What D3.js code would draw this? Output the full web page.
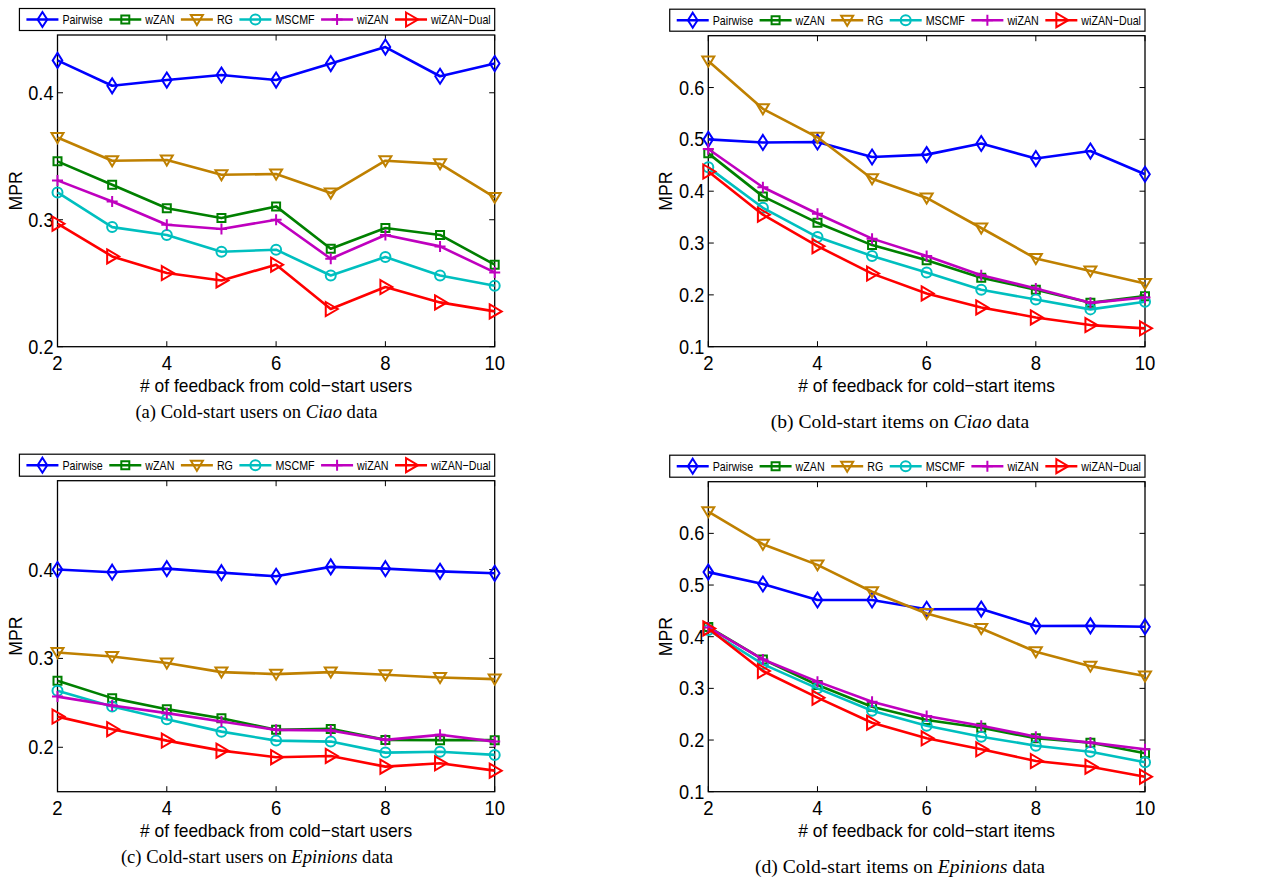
<!DOCTYPE html>
<html>
<head>
<meta charset="utf-8">
<script src="https://cdn.jsdelivr.net/npm/d3@7"></script>
<style>
  body { margin: 0; background: #fff; }
</style>
</head>
<body>
<div id="chart"></div>
<script>
const feedback = [2, 3, 4, 5, 6, 7, 8, 9, 10];
const methods = ["Pairwise", "wZAN", "RG", "MSCMF", "wiZAN", "wiZAN\u2212Dual"];
const colors = ["#0000ff", "#008000", "#bf8000", "#00bfbf", "#bf00bf", "#ff0000"];
const markers = ["diamond", "square", "triDown", "circle", "plus", "triRight"];

// MPR values, one row per method (same order as `methods`)
const ciaoUsersMPR = [
  [0.4255, 0.4055, 0.410, 0.414, 0.410, 0.423, 0.436, 0.413, 0.423],
  [0.346, 0.3276, 0.309, 0.3013, 0.3105, 0.2772, 0.2935, 0.288, 0.2646],
  [0.3648, 0.3465, 0.347, 0.3354, 0.336, 0.321, 0.3465, 0.344, 0.3176],
  [0.3215, 0.2942, 0.288, 0.2748, 0.2764, 0.2561, 0.2706, 0.2561, 0.248],
  [0.331, 0.3144, 0.296, 0.2927, 0.300, 0.2693, 0.288, 0.279, 0.2585],
  [0.2969, 0.2711, 0.258, 0.2522, 0.2646, 0.2297, 0.247, 0.2349, 0.2278]
];
const ciaoItemsMPR = [
  [0.500, 0.494, 0.495, 0.466, 0.4706, 0.492, 0.463, 0.4775, 0.4327],
  [0.473, 0.390, 0.339, 0.296, 0.267, 0.233, 0.210, 0.1846, 0.1975],
  [0.651, 0.559, 0.504, 0.424, 0.387, 0.329, 0.270, 0.246, 0.222],
  [0.446, 0.368, 0.3115, 0.275, 0.243, 0.210, 0.191, 0.172, 0.1866],
  [0.4815, 0.4077, 0.3565, 0.3085, 0.275, 0.238, 0.2123, 0.1846, 0.195],
  [0.438, 0.3546, 0.294, 0.241, 0.2027, 0.1758, 0.1565, 0.1417, 0.1354]
];
const epinionsUsersMPR = [
  [0.400, 0.397, 0.401, 0.3965, 0.3924, 0.403, 0.401, 0.398, 0.3958],
  [0.2748, 0.2553, 0.2429, 0.2327, 0.2196, 0.2207, 0.2083, 0.208, 0.208],
  [0.3067, 0.3022, 0.2948, 0.2846, 0.2823, 0.2846, 0.2816, 0.2785, 0.2767],
  [0.2635, 0.2458, 0.2316, 0.2176, 0.2075, 0.2064, 0.194, 0.195, 0.1914],
  [0.257, 0.247, 0.2384, 0.229, 0.2196, 0.2188, 0.2083, 0.214, 0.2064],
  [0.2345, 0.2203, 0.2075, 0.1962, 0.1888, 0.1902, 0.1782, 0.182, 0.1737]
];
const epinionsItemsMPR = [
  [0.525, 0.502, 0.471, 0.471, 0.453, 0.4535, 0.4207, 0.421, 0.4193],
  [0.419, 0.356, 0.3065, 0.2645, 0.2388, 0.2239, 0.2033, 0.1948, 0.1743],
  [0.642, 0.579, 0.539, 0.487, 0.445, 0.416, 0.371, 0.343, 0.324],
  [0.413, 0.347, 0.300, 0.2568, 0.2277, 0.2065, 0.189, 0.1774, 0.157],
  [0.418, 0.356, 0.313, 0.2742, 0.2465, 0.2277, 0.2065, 0.195, 0.182],
  [0.416, 0.3336, 0.282, 0.2335, 0.2033, 0.182, 0.1594, 0.1484, 0.129]
];

const xTicks = [2, 4, 6, 8, 10];
const usersLabel = "# of feedback from cold\u2212start users";
const itemsLabel = "# of feedback for cold\u2212start items";

const panels = [
  { data: ciaoUsersMPR, box: [57.5, 494.7, 35, 346.7], yDomain: [0.2, 0.4455], yTicks: [0.2, 0.3, 0.4],
    xlabel: usersLabel, cap: ["(a) Cold-start users on ", "Ciao", " data"], capX: 256.5, capDy: 71.5, capSize: 18.6 },
  { data: ciaoItemsMPR, box: [708.3, 1145, 35.7, 346.7], yDomain: [0.1, 0.7], yTicks: [0.1, 0.2, 0.3, 0.4, 0.5, 0.6],
    xlabel: itemsLabel, cap: ["(b) Cold-start items on ", "Ciao", " data"], capX: 900, capDy: 81.5, capSize: 19.6 },
  { data: epinionsUsersMPR, box: [57.5, 494.7, 480.7, 791.7], yDomain: [0.15, 0.5], yTicks: [0.2, 0.3, 0.4],
    xlabel: usersLabel, cap: ["(c) Cold-start users on ", "Epinions", " data"], capX: 257, capDy: 71.5, capSize: 18.6 },
  { data: epinionsItemsMPR, box: [708.3, 1145, 481.7, 791.7], yDomain: [0.1, 0.7], yTicks: [0.1, 0.2, 0.3, 0.4, 0.5, 0.6],
    xlabel: itemsLabel, cap: ["(d) Cold-start items on ", "Epinions", " data"], capX: 900, capDy: 81.5, capSize: 19.6 }
];

const markerPath = {
  diamond: "M0,-7.5L4.8,0L0,7.5L-4.8,0Z",
  square: "M-4,-4H4V4H-4Z",
  triDown: "M-6,-4.5L6,-4.5L0,5.5Z",
  circle: "M5,0A5,5 0 1,1 -5,0A5,5 0 1,1 5,0Z",
  plus: "M-5.5,0H5.5M0,-5.5V5.5",
  triRight: "M-5,-7L7,0L-5,7Z"
};

const width = 1278, height = 882;
const svg = d3.select("#chart").append("svg")
  .attr("width", width)
  .attr("height", height);

const SANS = "'Liberation Sans', Arial, Helvetica, sans-serif";
const SERIF = "'Liberation Serif', 'Times New Roman', serif";

// squeeze sans text a bit, the source font is narrower than Arial
function narrow(sel, k) {
  sel.each(function () {
    const w = this.getComputedTextLength();
    d3.select(this).attr("textLength", w * k).attr("lengthAdjust", "spacingAndGlyphs");
  });
}

panels.forEach(p => {
  const [x0, x1, y0, y1] = p.box;
  const x = d3.scaleLinear().domain([2, 10]).range([x0, x1]);
  const y = d3.scaleLinear().domain(p.yDomain).range([y1, y0]);
  const g = svg.append("g");

  // box and inward ticks on every side
  g.append("rect")
    .attr("x", x0).attr("y", y0)
    .attr("width", x1 - x0).attr("height", y1 - y0)
    .attr("fill", "none").attr("stroke", "#000").attr("stroke-width", 1.3);

  const tk = 5.5;
  xTicks.forEach(t => {
    g.append("line").attr("x1", x(t)).attr("x2", x(t)).attr("y1", y1).attr("y2", y1 - tk)
      .attr("stroke", "#000").attr("stroke-width", 1);
    g.append("line").attr("x1", x(t)).attr("x2", x(t)).attr("y1", y0).attr("y2", y0 + tk)
      .attr("stroke", "#000").attr("stroke-width", 1);
  });
  p.yTicks.forEach(t => {
    g.append("line").attr("x1", x0).attr("x2", x0 + tk).attr("y1", y(t)).attr("y2", y(t))
      .attr("stroke", "#000").attr("stroke-width", 1);
    g.append("line").attr("x1", x1).attr("x2", x1 - tk).attr("y1", y(t)).attr("y2", y(t))
      .attr("stroke", "#000").attr("stroke-width", 1);
  });

  g.selectAll(".xt").data(xTicks).enter().append("text")
    .attr("x", d => x(d)).attr("y", y1 + 23.5)
    .attr("text-anchor", "middle")
    .attr("font-family", SANS).attr("font-size", 19.5)
    .text(d => d)
    .call(narrow, 0.95);

  g.selectAll(".yt").data(p.yTicks).enter().append("text")
    .attr("x", x0 - 4).attr("y", d => y(d) + 7)
    .attr("text-anchor", "end")
    .attr("font-family", SANS).attr("font-size", 19.5)
    .text(d => d3.format(".1f")(d))
    .call(narrow, 0.93);

  g.append("text")
    .attr("transform", `translate(${x0 - 36},${(y0 + y1) / 2}) rotate(-90)`)
    .attr("text-anchor", "middle")
    .attr("font-family", SANS).attr("font-size", 19)
    .text("MPR")
    .call(narrow, 0.93);

  g.append("text")
    .attr("x", (x0 + x1) / 2).attr("y", y1 + 45)
    .attr("text-anchor", "middle")
    .attr("font-family", SANS).attr("font-size", 19)
    .text(p.xlabel)
    .call(narrow, 0.915);

  const cap = g.append("text")
    .attr("x", p.capX).attr("y", y1 + p.capDy)
    .attr("text-anchor", "middle")
    .attr("font-family", SERIF).attr("font-size", p.capSize);
  cap.append("tspan").text(p.cap[0]);
  cap.append("tspan").attr("font-style", "italic").text(p.cap[1]);
  cap.append("tspan").text(p.cap[2]);

  // series
  const line = d3.line().x((d, i) => x(feedback[i])).y(d => y(d));
  p.data.forEach((vals, si) => {
    g.append("path")
      .attr("d", line(vals))
      .attr("fill", "none")
      .attr("stroke", colors[si])
      .attr("stroke-width", 2.6)
      .attr("stroke-linejoin", "round");
    g.selectAll(null).data(vals).enter().append("path")
      .attr("transform", (d, i) => `translate(${x(feedback[i])},${y(d)})`)
      .attr("d", markerPath[markers[si]])
      .attr("fill", "none")
      .attr("stroke", colors[si])
      .attr("stroke-width", 2);
  });

  // legend, right aligned to the plot box
  const lg = g.append("g");
  const lTop = y0 - 26.5, lH = 22;
  const items = lg.selectAll(".li").data(methods).enter().append("g");
  const texts = items.append("text")
    .attr("y", lTop + lH / 2 + 4.6)
    .attr("font-family", SANS).attr("font-size", 13.2)
    .text(d => d)
    .call(narrow, 0.81);
  const widths = [];
  texts.each(function () { widths.push(+this.getAttribute("textLength")); });
  const total = 7 + d3.sum(widths) + methods.length * 36 + (methods.length - 1) * 6.5 + 4;
  const lx0 = x1 - total;
  lg.insert("rect", ":first-child")
    .attr("x", lx0).attr("y", lTop)
    .attr("width", total).attr("height", lH)
    .attr("fill", "#fff").attr("stroke", "#000").attr("stroke-width", 1.2);
  let cx = lx0 + 7;
  items.each(function (d, i) {
    const it = d3.select(this);
    const cy = lTop + lH / 2;
    it.append("line")
      .attr("x1", cx).attr("x2", cx + 32).attr("y1", cy).attr("y2", cy)
      .attr("stroke", colors[i]).attr("stroke-width", 2.6);
    it.append("path")
      .attr("transform", `translate(${cx + 16},${cy})`)
      .attr("d", markerPath[markers[i]])
      .attr("fill", "none").attr("stroke", colors[i]).attr("stroke-width", 2);
    it.select("text").attr("x", cx + 36);
    cx += 36 + widths[i] + 6.5;
  });
});
</script>
</body>
</html>
